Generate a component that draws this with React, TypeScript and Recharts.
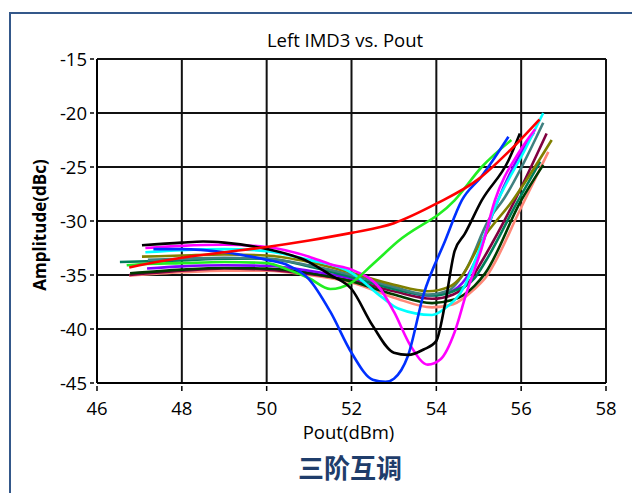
import { CartesianGrid, Line, LineChart, XAxis, YAxis } from 'recharts';

const X_TICKS = [46, 48, 50, 52, 54, 56, 58];
const Y_TICKS = [-45, -40, -35, -30, -25, -20, -15];

// [Pout dBm, IMD3 dBc]
const salmon = [[46.76, -35.06], [48, -34.75], [49, -34.6], [50, -34.6], [51, -35.0], [52, -35.7], [53, -37.1], [53.9, -38.0], [54.4, -37.7], [54.9, -36.3], [55.15, -35.3], [56.0, -28.75], [56.64, -23.6]];
const maroon = [[46.76, -35.0], [48, -34.6], [49, -34.4], [50, -34.5], [51, -34.9], [52, -35.5], [53, -36.5], [53.9, -37.2], [54.4, -36.8], [54.8, -35.5], [55.07, -33.75], [55.85, -28.1], [56.6, -21.9]];
const darkGreen = [[46.78, -34.85], [48, -34.5], [49, -34.35], [50, -34.4], [51, -34.8], [52, -35.6], [53, -36.8], [53.9, -37.6], [54.4, -37.3], [54.9, -36.0], [55.15, -34.85], [56.0, -28.1], [56.52, -24.8]];
const purple = [[47.18, -34.4], [48, -34.2], [49, -34.1], [50, -34.15], [51, -34.6], [52, -35.3], [53, -36.2], [53.8, -36.9], [54.3, -36.6], [54.7, -35.3], [55.0, -33.0], [55.4, -28.6], [55.95, -24.0], [56.3, -21.8]];
const tealGreen = [[46.54, -33.8], [48, -33.65], [49, -33.5], [50, -33.5], [51, -34.2], [52, -35.2], [53, -36.3], [53.9, -36.9], [54.4, -36.5], [54.9, -35.3], [55.15, -33.8], [55.93, -28.1], [56.45, -24.5]];
const steelTeal = [[47.2, -33.6], [48, -33.5], [49, -33.4], [50, -33.5], [51, -34.1], [52, -35.0], [53, -36.1], [53.8, -36.8], [54.3, -36.4], [54.7, -34.5], [55.22, -30.0], [55.6, -27.9], [56.52, -20.9]];
const olive = [[47.06, -33.3], [48, -33.2], [49, -33.1], [50, -33.2], [51, -33.8], [52, -34.8], [53, -35.9], [53.8, -36.5], [54.3, -36.1], [54.6, -35.1], [55.07, -31.8], [55.8, -28.1], [56.72, -22.5]];
const cyan = [[47.14, -32.9], [48, -32.7], [49, -32.6], [50, -32.8], [51, -33.6], [52, -34.8], [52.7, -37.0], [53.1, -38.1], [53.9, -38.7], [54.2, -38.1], [54.67, -36.0], [55.0, -32.8], [55.38, -28.75], [56.09, -23.4], [56.52, -20.0]];
const magenta = [[47.14, -32.5], [48, -32.3], [49, -32.2], [50, -32.4], [51, -33.3], [51.5, -34.0], [52, -34.5], [52.7, -36.4], [53, -38.4], [53.4, -41.6], [53.8, -43.3], [54.1, -42.8], [54.43, -40.3], [54.7, -36.8], [55.07, -32.5], [55.38, -28.1], [55.93, -23.75], [56.33, -21.5]];
const green = [[46.7, -34.1], [47, -34.0], [48, -33.9], [49, -33.8], [50, -33.9], [50.5, -34.5], [51, -35.3], [51.5, -36.3], [52, -35.7], [52.5, -34.0], [53.09, -31.9], [54.43, -28.1], [55.07, -25.0], [55.77, -22.5]];
const blue = [[47.33, -32.6], [48, -32.6], [49, -32.9], [50, -33.6], [50.5, -34.1], [51, -35.4], [51.5, -38.4], [52, -42.2], [52.5, -44.7], [52.8, -44.9], [53, -44.6], [53.33, -42.5], [53.7, -36.8], [54.2, -31.9], [54.6, -28.1], [55.06, -25.9], [55.7, -22.2]];
const black = [[47.06, -32.25], [48, -32.0], [48.5, -31.9], [49, -32.0], [50, -32.6], [51, -33.8], [51.5, -35.0], [52, -36.3], [52.5, -39.7], [53, -42.2], [53.33, -42.4], [53.7, -41.9], [54, -41.1], [54.2, -37.8], [54.43, -32.8], [54.67, -31.2], [55.07, -28.1], [55.7, -24.4], [55.97, -21.9]];
const red = [[46.76, -34.3], [47, -34.1], [48, -33.4], [49, -32.9], [50, -32.4], [51, -31.8], [52, -31.1], [53, -30.2], [54, -28.4], [55, -26.1], [55.7, -23.6], [56.43, -20.6]];

const SERIES = [
  { name: 'salmon', color: '#ff8878', points: salmon },
  { name: 'maroon', color: '#800040', points: maroon },
  { name: 'darkGreen', color: '#003a00', points: darkGreen },
  { name: 'purple', color: '#8000ff', points: purple },
  { name: 'tealGreen', color: '#00805a', points: tealGreen },
  { name: 'steelTeal', color: '#408080', points: steelTeal },
  { name: 'olive', color: '#808000', points: olive },
  { name: 'cyan', color: '#00ffff', points: cyan },
  { name: 'magenta', color: '#ff00ff', points: magenta },
  { name: 'green', color: '#22ee22', points: green },
  { name: 'blue', color: '#0030ff', points: blue },
  { name: 'black', color: '#000000', points: black },
  { name: 'red', color: '#ff0000', points: red },
];

const FONT = '"Open Sans", sans-serif';

function YTick({ x, y, payload }: any) {
  return (
    <g>
      <line x1={x - 7} x2={x - 3} y1={y} y2={y} stroke="#000" strokeWidth={1.5} />
      <text x={x - 10} y={y} dy={6.5} textAnchor="end" fontSize={18.5} fontFamily={FONT} fill="#000">
        {payload.value}
      </text>
    </g>
  );
}

function XTick({ x, y, payload }: any) {
  return (
    <g>
      <line x1={x} x2={x} y1={y + 3} y2={y + 8} stroke="#000" strokeWidth={1.5} />
      <text x={x} y={y} dy={32} textAnchor="middle" fontSize={18.5} fontFamily={FONT} fill="#000">
        {payload.value}
      </text>
    </g>
  );
}

export default function App() {
  return (
    <div style={{ position: 'fixed', left: 0, top: 0, width: 632, height: 493, overflow: 'hidden', background: '#fff' }}>
      <div
        style={{
          position: 'absolute',
          left: 9,
          top: 12,
          width: 660,
          height: 520,
          borderLeft: '2px solid #34588a',
          borderTop: '2px solid #34588a',
        }}
      />
      <div style={{ position: 'absolute', left: 0, top: 0 }}>
        <LineChart width={632} height={493} margin={{ top: 59, right: 26, bottom: 80, left: 0 }}>
          <CartesianGrid stroke="#111" strokeWidth={2} />
          <XAxis
            type="number"
            dataKey="x"
            domain={[46, 58]}
            ticks={X_TICKS}
            allowDataOverflow
            height={30}
            tickSize={0}
            tickMargin={0}
            tickLine={false}
            axisLine={{ stroke: '#000', strokeWidth: 2 }}
            tick={<XTick />}
          />
          <YAxis
            type="number"
            dataKey="y"
            domain={[-45, -15]}
            ticks={Y_TICKS}
            allowDataOverflow
            width={97}
            tickSize={0}
            tickMargin={0}
            tickLine={false}
            axisLine={{ stroke: '#000', strokeWidth: 2 }}
            tick={<YTick />}
          />
          {SERIES.map((s) => (
            <Line
              key={s.name}
              data={s.points.map(([x, y]) => ({ x, y }))}
              dataKey="y"
              type="monotone"
              stroke={s.color}
              strokeWidth={2.6}
              dot={false}
              activeDot={false}
              isAnimationActive={false}
            />
          ))}
        </LineChart>
      </div>
      <div style={{ position: 'absolute', left: 0, width: 690, top: 29, lineHeight: '22px', textAlign: 'center', fontFamily: FONT, fontSize: 18.5, color: '#000' }}>
        Left IMD3 vs. Pout
      </div>
      <div
        style={{
          position: 'absolute',
          left: 40 - 100,
          top: 225 - 12,
          width: 200,
          height: 24,
          lineHeight: '24px',
          textAlign: 'center',
          transform: 'rotate(-90deg)',
          fontFamily: FONT,
          fontWeight: 700,
          fontSize: 17,
          color: '#000',
        }}
      >
        Amplitude(dBc)
      </div>
      <div style={{ position: 'absolute', left: 0, width: 697, top: 421, lineHeight: '22px', textAlign: 'center', fontFamily: FONT, fontSize: 18.5, color: '#000' }}>
        Pout(dBm)
      </div>
      <div
        style={{
          position: 'absolute',
          left: 0,
          width: 700,
          top: 452,
          lineHeight: '30px',
          textAlign: 'center',
          fontFamily: '"Noto Sans CJK SC", sans-serif',
          fontWeight: 600,
          fontSize: 26,
          color: '#1f3d6b',
        }}
      >
        三阶互调
      </div>
    </div>
  );
}
